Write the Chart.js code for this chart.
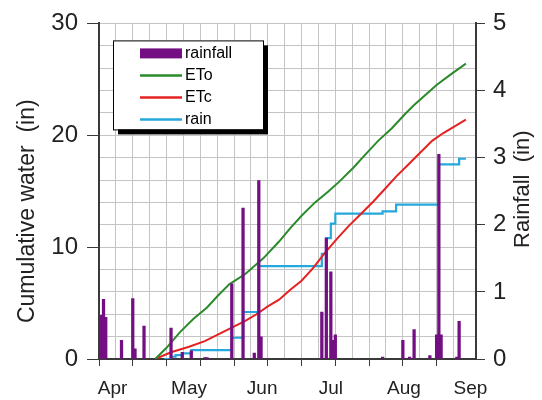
<!DOCTYPE html>
<html>
<head>
<meta charset="utf-8">
<script src="https://cdn.jsdelivr.net/npm/chart.js@4.4.1/dist/chart.umd.min.js"></script>
<style>
  body { margin: 0; background: #fff; }
  canvas { display: block; background: #fff; }
</style>
</head>
<body>
<canvas id="waterChart" width="542" height="400"></canvas>
<script>
// day of year values
const monthLabels = ['Apr', 'May', 'Jun', 'Jul', 'Aug', 'Sep'];
const monthDays = [96, 130, 162.5, 193, 225.5, 255];

const leftTicks = [0, 10, 20, 30];
const rightTicks = [0, 1, 2, 3, 4, 5];
const leftTitle = 'Cumulative water  (in)';
const rightTitle = 'Rainfall  (in)';

// cumulative reference ET (in)
const etoDays = [115, 120, 126, 132, 138, 143, 148, 155, 163, 170, 175, 180, 186, 192, 197, 203, 208, 214, 220, 226, 230, 235, 240, 246, 253];
const etoValues = [0, 1.0, 2.4, 3.6, 4.6, 5.7, 6.7, 7.6, 9.0, 10.5, 11.7, 12.8, 14.0, 15.0, 15.9, 17.1, 18.2, 19.5, 20.6, 21.9, 22.7, 23.6, 24.5, 25.4, 26.4];

// cumulative crop ET (in)
const etcDays = [115, 122, 130, 137, 143, 149, 155, 160, 165, 170, 175, 180, 185, 190, 196, 201, 206, 212, 217, 222, 227, 232, 238, 243, 248, 253];
const etcValues = [0, 0.6, 1.1, 1.6, 2.2, 2.8, 3.4, 4.0, 4.7, 5.3, 6.2, 7.0, 8.1, 9.4, 10.8, 11.9, 12.9, 14.1, 15.2, 16.3, 17.3, 18.3, 19.5, 20.2, 20.8, 21.4];

// cumulative rain (in), stepped
const rainDays = [119, 122, 124, 127, 131, 149, 154, 161, 189, 191, 193, 195, 216, 222, 241, 250, 253];
const rainValues = [0, 0.2, 0.35, 0.5, 0.8, 1.9, 4.2, 8.3, 9.4, 10.8, 12.1, 13.0, 13.2, 13.8, 17.4, 17.9, 17.9];

// daily rainfall (in), right axis
const rainfallDays = [91, 92, 93, 100, 105, 106, 110, 122, 127, 131, 137, 138, 149, 154, 159, 161, 162, 189, 191, 193, 194, 195, 216, 225, 228, 230, 237, 240, 241, 242, 249, 250];
const rainfallValues = [0.65, 0.89, 0.62, 0.28, 0.90, 0.15, 0.49, 0.46, 0.10, 0.12, 0.02, 0.02, 1.12, 2.25, 0.09, 2.66, 0.33, 0.70, 1.80, 1.30, 0.28, 0.36, 0.03, 0.28, 0.03, 0.44, 0.05, 0.36, 3.05, 0.36, 0.03, 0.56];

const toPoints = (days, vals) => days.map((d, i) => ({ x: d, y: vals[i] }));

const FONT = 'Arial, "Liberation Sans", sans-serif';
const AXIS = '#3a3a3a';
const GRID = '#c4c4c4';
const TEXT = '#222';

// legend box with drop shadow, inside the plot
const legendBox = {
    id: 'legendBox',
    afterDatasetsDraw(chart) {
        const ctx = chart.ctx;
        const a = chart.chartArea;
        const x = a.left + 14, y = a.top + 17, w = 150, h = 89;
        ctx.save();
        ctx.fillStyle = '#000';
        ctx.fillRect(x + 5, y + 5, w, h);
        ctx.fillStyle = '#fff';
        ctx.fillRect(x, y, w, h);
        ctx.strokeStyle = '#000';
        ctx.lineWidth = 1;
        ctx.strokeRect(x + 0.5, y + 0.5, w, h);
        ctx.font = '16px ' + FONT;
        ctx.textBaseline = 'middle';
        chart.data.datasets.forEach((ds, i) => {
            const cy = y + 13 + i * 22;
            if (ds.type === 'bar') {
                ctx.fillStyle = ds.backgroundColor;
                ctx.fillRect(x + 27, cy - 5, 42, 10);
            } else {
                ctx.strokeStyle = ds.borderColor;
                ctx.lineWidth = 2.5;
                ctx.beginPath();
                ctx.moveTo(x + 27, cy);
                ctx.lineTo(x + 69, cy);
                ctx.stroke();
            }
            ctx.fillStyle = '#000';
            ctx.fillText(ds.label, x + 72, cy);
        });
        ctx.restore();
    }
};

// both axis titles read bottom-to-top, as in the original
const axisTitles = {
    id: 'axisTitles',
    afterDraw(chart) {
        const ctx = chart.ctx;
        const a = chart.chartArea;
        const mid = (a.top + a.bottom) / 2;
        ctx.save();
        ctx.font = '23px ' + FONT;
        ctx.fillStyle = TEXT;
        ctx.textAlign = 'center';
        ctx.textBaseline = 'middle';
        ctx.translate(a.left - 71, mid + 20);
        ctx.rotate(-Math.PI / 2);
        ctx.fillText(leftTitle, 0, 0);
        ctx.restore();
        ctx.save();
        ctx.font = '22px ' + FONT;
        ctx.fillStyle = TEXT;
        ctx.textAlign = 'center';
        ctx.textBaseline = 'middle';
        ctx.translate(a.right + 47, mid - 2);
        ctx.rotate(-Math.PI / 2);
        ctx.fillText(rightTitle, 0, 0);
        ctx.restore();
    }
};

function initChart() {
    const ctx = document.getElementById('waterChart').getContext('2d');
    new Chart(ctx, {
        type: 'line',
        data: {
            datasets: [
                {
                    type: 'bar',
                    label: 'rainfall',
                    data: toPoints(rainfallDays, rainfallValues),
                    backgroundColor: '#730f82',
                    barThickness: 2.6,
                    yAxisID: 'y2',
                    order: 0
                },
                {
                    label: 'ETo',
                    data: toPoints(etoDays, etoValues),
                    borderColor: '#2b8a2b',
                    borderWidth: 2,
                    pointRadius: 0,
                    yAxisID: 'y',
                    order: 1
                },
                {
                    label: 'ETc',
                    data: toPoints(etcDays, etcValues),
                    borderColor: '#e42222',
                    borderWidth: 2,
                    pointRadius: 0,
                    yAxisID: 'y',
                    order: 1
                },
                {
                    label: 'rain',
                    data: toPoints(rainDays, rainValues),
                    borderColor: '#26a8dc',
                    borderWidth: 2.2,
                    pointRadius: 0,
                    stepped: 'before',
                    yAxisID: 'y',
                    order: 1
                }
            ]
        },
        options: {
            responsive: false,
            animation: false,
            devicePixelRatio: 1,
            layout: { padding: { top: 21, left: 0, right: 0, bottom: 0 } },
            plugins: { legend: { display: false }, tooltip: { enabled: false } },
            scales: {
                x: {
                    type: 'linear',
                    position: 'bottom',
                    min: 90,
                    max: 257.5,
                    offset: false,
                    weight: 0,
                    grid: {
                        offset: false,
                        color: GRID,
                        tickLength: 7,
                        tickColor: c => ((c.tick.value - 90) % 15 === 0 ? AXIS : 'rgba(0,0,0,0)')
                    },
                    border: { color: AXIS, width: 2 },
                    ticks: { stepSize: 7.5, autoSkip: false, callback: () => '' },
                    afterFit: s => { s.height = 8; }
                },
                xm: {
                    type: 'linear',
                    position: 'bottom',
                    min: 90,
                    max: 257.5,
                    weight: 1,
                    grid: { display: false, drawTicks: false },
                    border: { display: false },
                    afterBuildTicks: s => { s.ticks = monthDays.map(v => ({ value: v })); },
                    ticks: {
                        autoSkip: false,
                        maxRotation: 0,
                        padding: 10,
                        color: TEXT,
                        font: { family: FONT, size: 19 },
                        callback: (v, i) => monthLabels[i]
                    },
                    afterFit: s => { s.height = 33; }
                },
                y: {
                    position: 'left',
                    min: 0,
                    max: 30,
                    grid: {
                        color: GRID,
                        tickLength: 12,
                        tickColor: c => (leftTicks.includes(c.tick.value) ? AXIS : 'rgba(0,0,0,0)')
                    },
                    border: { color: AXIS, width: 2 },
                    ticks: {
                        stepSize: 2,
                        autoSkip: false,
                        padding: 9,
                        color: TEXT,
                        font: { family: FONT, size: 24 },
                        callback: v => (leftTicks.includes(v) ? v : '')
                    },
                    afterFit: s => { s.width = 99; }
                },
                y2: {
                    position: 'right',
                    min: 0,
                    max: 5,
                    grid: { drawOnChartArea: false, tickLength: 9, tickColor: AXIS },
                    border: { color: AXIS, width: 2 },
                    afterBuildTicks: s => { s.ticks = rightTicks.map(v => ({ value: v })); },
                    ticks: {
                        autoSkip: false,
                        padding: 8,
                        color: TEXT,
                        font: { family: FONT, size: 24 }
                    },
                    afterFit: s => { s.width = 66; }
                }
            }
        },
        plugins: [legendBox, axisTitles]
    });
}

window.onload = () => {
    initChart();
};
</script>
</body>
</html>
